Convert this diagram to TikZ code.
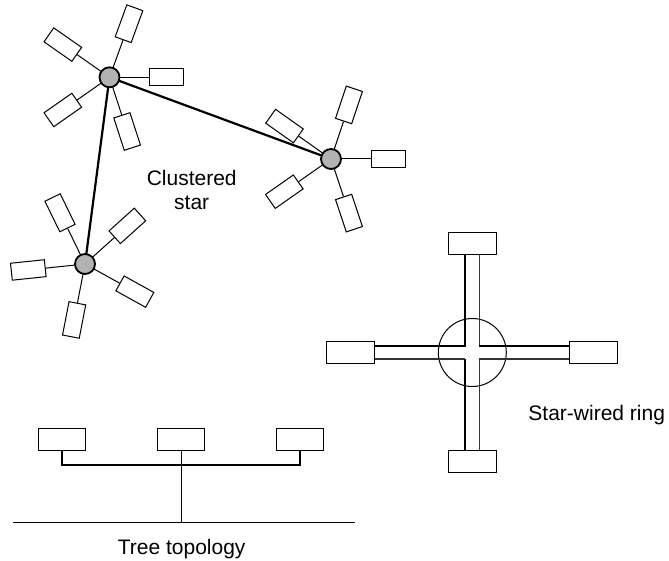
\documentclass[tikz,border=0pt]{standalone}
\usepackage{fontspec}
\setmainfont{Liberation Sans}
\usetikzlibrary{calc}
\begin{document}
\begin{tikzpicture}[x=1pt,y=1pt,
  hub/.style={circle,draw,line width=1.8pt,fill=black!30,minimum size=20pt,inner sep=0pt},
  sat/.style={rectangle,draw,line width=1pt,fill=white,minimum width=34pt,minimum height=17pt,inner sep=0pt},
  station/.style={rectangle,draw,line width=1pt,fill=white,minimum width=47.5pt,minimum height=22pt,inner sep=0pt},
  spoke/.style={line width=1pt},
  trunk/.style={line width=2.2pt},
  lbl/.style={font=\fontsize{21}{23}\selectfont,anchor=base,inner sep=0pt},
  ringthick/.style={line width=1.8pt},
  ringthin/.style={line width=1.1pt,black!80}]
\useasboundingbox (0,0) rectangle (669,560);
% ---------- clustered star ----------
\coordinate (h1c) at (109.5,482.7);
\coordinate (h2c) at (331,401);
\coordinate (h3c) at (85,296);
\draw[trunk] (h1c) -- (h2c);
\draw[trunk] (h1c) -- (h3c);
\foreach \h/\angs in {1/{0,70,145,215,288},2/{0,71.6,144.7,215,288.4},3/{186,116,42,-29,-101}}{
  \foreach \a [count=\i] in \angs {
    \node[sat,rotate=\a] (s\h\i) at ($(h\h c)+(\a:57)$) {};
    \draw[spoke] (h\h c) -- (s\h\i);
  }
}
\node[hub] (h1) at (h1c) {};
\node[hub] (h2) at (h2c) {};
\node[hub] (h3) at (h3c) {};
\node[lbl] (cl1) at (191.7,374) {Clustered};
\node[lbl] (cl2) at (191.7,350.7) {star};
% ---------- star-wired ring ----------
\node[circle,draw,line width=1pt,minimum size=68pt,inner sep=0pt] (ring) at (472.3,207.5) {};
\node[station] (rt) at (472.3,316.3) {};
\node[station] (rb) at (472.3,99) {};
\node[station] (rl) at (350.5,207.7) {};
\node[station] (rr) at (593.7,207.7) {};
\coordinate (cTL) at (465.3,214.3);
\coordinate (cTR) at (479.3,214.3);
\coordinate (cBL) at (465.3,201);
\coordinate (cBR) at (479.3,201);
\draw[ringthick] (rt.south -| cTL) -- (cTL) -- (rl.east |- cTL);
\draw[ringthin] (rt.south -| cTR) -- (cTR);
\draw[ringthick] (cTR) -- (rr.west |- cTR);
\draw[ringthin] (rl.east |- cBL) -- (cBL);
\draw[ringthick] (cBL) -- (rb.north -| cBL);
\draw[ringthin] (rr.west |- cBR) -- (cBR) -- (rb.north -| cBR);
\node[lbl] (swr) at (596.7,140) {Star-wired ring};
% ---------- tree topology ----------
\node[station] (t1) at (62.2,120.2) {};
\node[station] (t2) at (181,120.2) {};
\node[station] (t3) at (299.8,120.2) {};
\coordinate (gl) at (12.7,37.3);
\coordinate (gr) at (355,37.3);
\coordinate (gm) at (181,37.3);
\draw[line width=1pt] (gl) -- (gr);
\draw[trunk] (t1.south) -- ++(0,-14) -| (t3.south);
\draw[line width=1pt] (t2.south) -- (gm);
\node[lbl] (tt) at (181.7,6) {Tree topology};
\end{tikzpicture}
\end{document}
